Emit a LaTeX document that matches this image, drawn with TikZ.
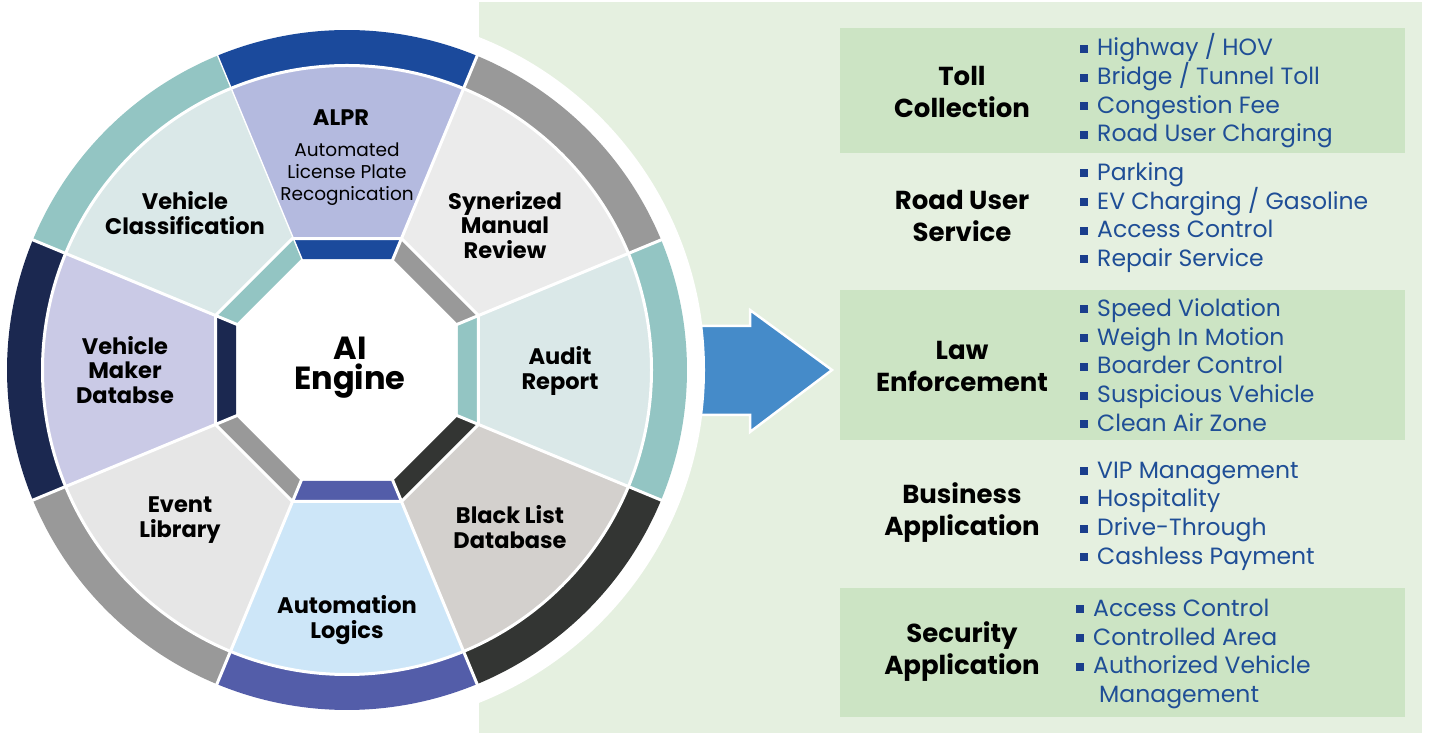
\documentclass[tikz,border=0pt]{standalone}
\usepackage{fontspec}
\setmainfont{Poppins}
\usetikzlibrary{calc}

\definecolor{alprring}{HTML}{1B4A9C}
\definecolor{alprfill}{HTML}{B4BADF}
\definecolor{grayring}{HTML}{999999}
\definecolor{reviewfill}{HTML}{EBEBEB}
\definecolor{tealring}{HTML}{93C5C3}
\definecolor{tealfill}{HTML}{DAE8E8}
\definecolor{darkring}{HTML}{333533}
\definecolor{blackfill}{HTML}{D3D0CD}
\definecolor{purplering}{HTML}{535DA9}
\definecolor{autofill}{HTML}{CDE6F8}
\definecolor{eventfill}{HTML}{E6E6E6}
\definecolor{navyring}{HTML}{1B2850}
\definecolor{makerfill}{HTML}{CACAE6}
\definecolor{panelgreen}{HTML}{E5F0E0}
\definecolor{boxgreen}{HTML}{CCE4C4}
\definecolor{itemblue}{HTML}{1F4E96}
\definecolor{bulletblue}{HTML}{1A3E8C}
\definecolor{arrowblue}{HTML}{458BC9}

\def\bul{\textcolor{bulletblue}{\rule[3pt]{8pt}{8pt}}\hspace{9pt}}

\tikzset{
  wheellabel/.style={align=center, inner sep=0pt, text=black,
    font=\fontsize{22.5}{24.5}\selectfont\bfseries},
  catlabel/.style={align=center, inner sep=0pt, text=black,
    font=\fontsize{26}{32}\selectfont\bfseries},
  itemlist/.style={align=left, anchor=west, inner sep=0pt, text=itemblue,
    font=\fontsize{23.5}{28.7}\selectfont},
}

\begin{document}
\begin{tikzpicture}[x=1pt, y=1pt]
		%%%%% START %%%%%
		\useasboundingbox (0,0) rectangle (1429,733);
		\coordinate (C) at (347,363);
		
		% green panel and boxes
		\fill[panelgreen] (479,0) rectangle (1422,731);
		\fill[boxgreen] (840,580) rectangle (1405,705);
		\fill[boxgreen] (840,293) rectangle (1405,443);
		\fill[boxgreen] (840,16) rectangle (1405,145);
		
		% arrow
		\draw[white, line width=2.5pt, line join=miter, fill=arrowblue]
			(690,407) -- (750,407) -- (750,423) -- (832,363) -- (750,301) -- (750,318) -- (690,318) -- cycle;
		
		% white halo
		\fill[white] (C) circle (358);
		
		% wheel
		\foreach \ang/\ring/\fil in {90/alprring/alprfill, 45/grayring/reviewfill,
				0/tealring/tealfill, -45/darkring/blackfill, -90/purplering/autofill,
				-135/grayring/eventfill, 180/navyring/makerfill, 135/tealring/tealfill}{
			\fill[\ring] ($(C)+(\ang-22.5:340)$) arc[start angle=\ang-22.5, end angle=\ang+22.5, radius=340]
				-- ($(C)+(\ang+22.5:304)$) arc[start angle=\ang+22.5, end angle=\ang-22.5, radius=304] -- cycle;
			\fill[\fil] ($(C)+(\ang-22.5:141.8)$) -- ($(C)+(\ang-22.5:305)$)
				arc[start angle=\ang-22.5, end angle=\ang+22.5, radius=305] -- ($(C)+(\ang+22.5:141.8)$) -- cycle;
			\fill[\ring] ($(C)+(\ang-22.5:120.1)$) -- ($(C)+(\ang-22.5:142.9)$)
				-- ($(C)+(\ang+22.5:142.9)$) -- ($(C)+(\ang+22.5:120.1)$) -- cycle;
			\draw[white, line width=3pt] ($(C)+(\ang+22.5:115)$) -- ($(C)+(\ang+22.5:342)$);
		}
		\draw[white, line width=3pt] (C) circle (304.5);
		\draw[white, line width=3pt] ($(C)+(22.5:142.3)$)
			\foreach \k in {1,...,7}{ -- ($(C)+(22.5+45*\k:142.3)$) } -- cycle;
		
		% wheel labels
		\node[wheellabel] (alpr) at (341,615) {ALPR};
		\node[align=center, inner sep=0pt, font=\fontsize{18.5}{22}\selectfont] (alprsub) at (347,559)
			{Automated\\License Plate\\Recognication};
		\node[wheellabel] (review) at (505,508) {Synerized\\Manual\\Review};
		\node[wheellabel] (audit) at (560,362) {Audit\\Report};
		\node[wheellabel] (blacklist) at (510,206) {Black List\\Database};
		\node[wheellabel] (logics) at (347,113) {Automation\\Logics};
		\node[wheellabel] (event) at (180,213) {Event\\Library};
		\node[wheellabel] (maker) at (125,363) {Vehicle\\Maker\\Databse};
		\node[wheellabel] (classif) at (185,520) {Vehicle\\Classification};
		\node[align=center, inner sep=0pt, font=\fontsize{32}{30}\selectfont\bfseries] (engine) at (350,365) {AI\\Engine};
		
		% categories
		\node[catlabel] (toll) at (962,641) {Toll\\Collection};
		\node[catlabel] (roaduser) at (962,517) {Road User\\Service};
		\node[catlabel] (law) at (962,367) {Law\\Enforcement};
		\node[catlabel] (business) at (962,220) {Business\\Application};
		\node[catlabel] (security) at (962,81) {Security\\Application};
		
		% items
		\node[itemlist] (tollitems) at (1080,642) {\bul Highway / HOV\\\bul Bridge / Tunnel Toll\\\bul Congestion Fee\\\bul Road User Charging};
		\node[itemlist] (roaditems) at (1080,515.5) {\bul Parking\\\bul EV Charging / Gasoline\\\bul Access Control\\\bul Repair Service};
		\node[itemlist] (lawitems) at (1080,368) {\bul Speed Violation\\\bul Weigh In Motion\\\bul Boarder Control\\\bul Suspicious Vehicle\\\bul Clean Air Zone};
		\node[itemlist] (businessitems) at (1080,217) {\bul VIP Management\\\bul Hospitality\\\bul Drive-Through\\\bul Cashless Payment};
		\node[itemlist] (securityitems) at (1076,79) {\bul Access Control\\\bul Controlled Area\\\bul Authorized Vehicle\\\hspace{23pt}Management};
		
		%%%%% END %%%%%
\end{tikzpicture}
\end{document}
